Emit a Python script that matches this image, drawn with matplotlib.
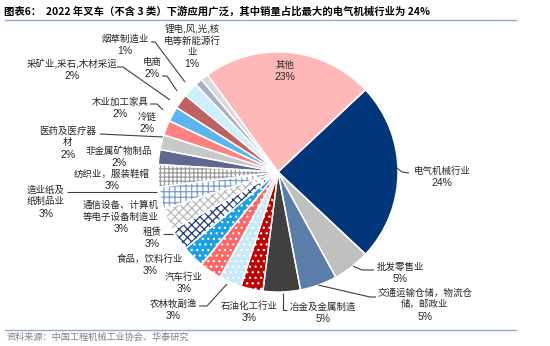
import matplotlib
matplotlib.use('Agg')
import matplotlib.pyplot as plt

plt.rcParams['hatch.linewidth'] = 0.9

# ---------------- data ----------------
categories = ['其他', '电气机械行业', '批发零售业', '交通运输仓储，物流仓\n储，邮政业',
              '冶金及金属制造', '石油化工行业', '农林牧副渔', '汽车行业', '食品，饮料行业',
              '租赁', '通信设备、计算机\n等电子设备制造业', '造业纸及\n纸制品业',
              '纺织业，服装鞋帽', '非金属矿物制品', '医药及医疗器\n材', '冷链',
              '木业加工家具', '采矿业,采石,木材采运', '电商', '烟草制造业',
              '锂电,风,光,核\n电等新能源行\n业']
values = [23, 24, 5, 5, 5, 3, 3, 3, 3, 3, 3, 3, 3, 2, 2, 2, 2, 2, 2, 1, 1]
pct_labels = [f'{v}%' for v in values]

title = '图表6：  2022 年叉车（不含 3 类）下游应用广泛，其中销量占比最大的电气机械行业为 24%'
source = '资料来源：中国工程机械工业协会、华泰研究'

# ---------------- styles ----------------
faces = ['#FFB7B7', '#00377A', '#C0C0C0', '#5A7EA8', '#404040', '#C00000', '#C6E9F8',
         '#FF6666', '#1AA0E4', 'white', 'white', 'white', 'white', '#5E6891',
         '#C8C8C8', '#FF8181', '#5BB6EE', '#C06262', '#CDEFFC', '#A9AFC1', '#D9D9D9']
hatches = [None, None, None, None, None, '...', '...', '...', '...', 'xxxx', 'xxxx',
           '+++', '++++', None, None, None, None, None, None, None, None]
hatch_cols = [None, None, None, None, None, 'white', 'white', 'white', 'white',
              '#1F3C7A', '#B8B8B8', '#7E9CCC', '#9C9C9C', None, None, None, None,
              None, None, None, None]

W, H = 550, 346
fig = plt.figure(figsize=(W / 100, H / 100), dpi=100)
ax = fig.add_axes([0, 0, 1, 1])

def Y(y):
    return H - y

cx, cy, R = 278, 172, 120

wedges, _ = ax.pie(values, colors=faces, startangle=126, counterclock=False,
                   center=(cx, Y(cy)), radius=R, wedgeprops=dict(linewidth=0))
for w, h, hc in zip(wedges, hatches, hatch_cols):
    if h:
        w.set_hatch(h)
        w.set_edgecolor(hc)
        w.set_linewidth(0)
# white separators
ax.pie(values, colors=['none'] * len(values), startangle=126, counterclock=False,
       center=(cx, Y(cy)), radius=R,
       wedgeprops=dict(linewidth=1.0, edgecolor='white', fill=False))

# ---------------- labels ----------------
label_pos = [(285, 65), (442, 171), (400, 267), (425, 293), (323, 307), (249, 306),
             (173, 304), (184, 277), (150, 259), (152, 232), (121, 205), (46, 190),
             (112, 174), (119, 151), (68, 131), (147, 117), (120, 102), (72, 64),
             (152, 62), (125, 39), (192, 29)]
step = 11.8
cjk = ['Noto Sans CJK SC', 'DejaVu Sans']
for name, pct, (x, y) in zip(categories, pct_labels, label_pos):
    lines = name.split('\n')
    for i, ln in enumerate(lines):
        ax.text(x, Y(y + i * step), ln, ha='center', va='center', fontsize=6.8,
                family=cjk, color='#262626')
    ax.text(x, Y(y + len(lines) * step), pct, ha='center', va='center', fontsize=7.5,
            family=['Liberation Sans'], color='#262626')

leaders = [
    [(397, 168), (402, 172), (409, 173)],
    [(353, 266), (362, 270), (374, 270)],
    [(318, 285), (370, 297), (376, 297)],
    [(283, 293), (283, 310), (287, 310)],
    [(227, 284), (207, 306), (199, 306)],
    [(173, 234), (163, 234)],
    [(157, 192), (67, 192)],
    [(163, 137), (100, 134)],
    [(163, 110), (157, 104), (150, 104)],
    [(170, 100), (123, 67), (117, 67)],
    [(177, 91), (167, 76), (162, 76)],
    [(185, 82), (155, 42), (151, 42)],
]
for pts in leaders:
    ax.plot([p[0] for p in pts], [Y(p[1]) for p in pts], color='#404040', lw=0.8,
            solid_capstyle='butt')

# ---------------- title / source ----------------
ax.text(4, Y(11), title, ha='left', va='center', fontsize=7.45, fontweight='bold',
        family=cjk, color='black')
ax.plot([5, 516], [Y(19.5), Y(19.5)], color='#8FAAD2', lw=1.0)
ax.plot([5, 516], [Y(330), Y(330)], color='#8FAAD2', lw=1.0)
ax.text(7, Y(337.5), source, ha='left', va='center', fontsize=6.6, family=cjk,
        color='#7F7F7F')

ax.set_xlim(0, W)
ax.set_ylim(0, H)
ax.set_aspect('auto')
ax.axis('off')
fig.savefig('out.png', dpi=100)
